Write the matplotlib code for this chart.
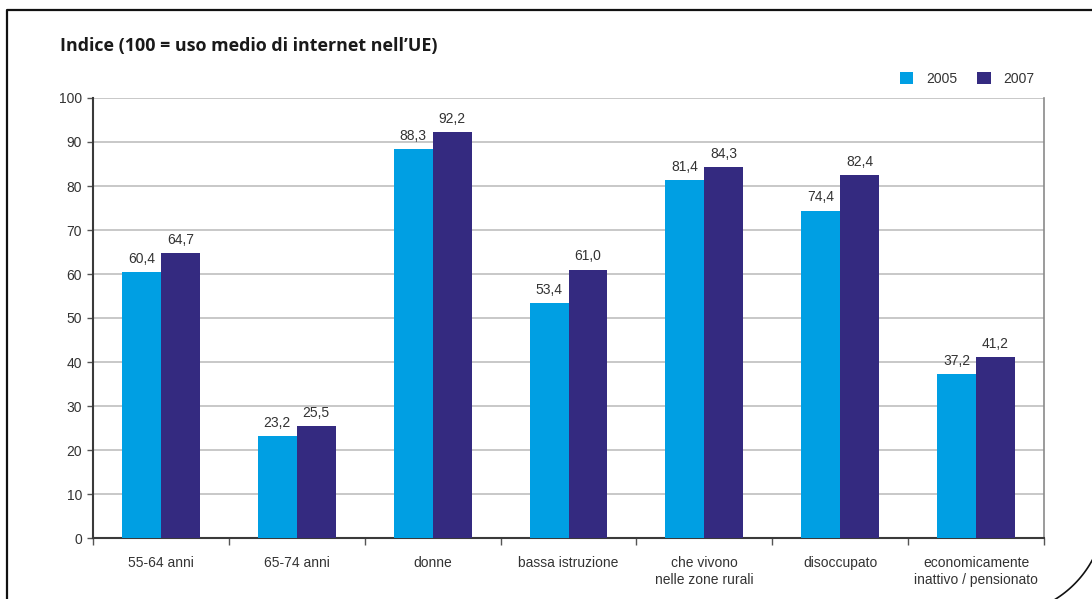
import numpy as np
import matplotlib
matplotlib.use("Agg")
import matplotlib.pyplot as plt
from matplotlib.lines import Line2D

# Data
categories = ["55-64 anni", "65-74 anni", "donne", "bassa istruzione",
              "che vivono\nnelle zone rurali", "disoccupato",
              "economicamente\ninattivo / pensionato"]
vals_2005 = [60.4, 23.2, 88.3, 53.4, 81.4, 74.4, 37.2]
vals_2007 = [64.7, 25.5, 92.2, 61.0, 84.3, 82.4, 41.2]
years = ["2005", "2007"]
yticks = [0, 10, 20, 30, 40, 50, 60, 70, 80, 90, 100]

C05 = "#009fe3"
C07 = "#342a80"
TXT = "#333333"
FONT = "Liberation Sans"
FS = 10

W, H = 1092, 599
fig = plt.figure(figsize=(W / 100, H / 100), dpi=100)
ax = fig.add_axes([93 / W, 1 - 538 / H, (1044 - 93) / W, (538 - 98) / H])

x = np.arange(len(categories))
bw = 0.287
ax.bar(x - bw / 2, vals_2005, bw, color=C05, zorder=3, label=years[0])
ax.bar(x + bw / 2, vals_2007, bw, color=C07, zorder=3, label=years[1])

def fmt(v):
    return f"{v:.1f}".replace(".", ",")

for xi, v in zip(x, vals_2005):
    ax.text(xi - bw / 2, v + 1.4, fmt(v), ha="center", va="bottom",
            fontsize=FS, color=TXT, family=FONT)
for xi, v in zip(x, vals_2007):
    ax.text(xi + bw / 2, v + 1.4, fmt(v), ha="center", va="bottom",
            fontsize=FS, color=TXT, family=FONT)

ax.set_xlim(-0.5, len(categories) - 0.5)
ax.set_ylim(0, 100)
ax.set_yticks(yticks)
ax.set_yticklabels([str(t) for t in yticks], fontsize=FS, color=TXT, family=FONT)
ax.yaxis.grid(True, color="#c4c4c4", lw=1.3, zorder=0)
ax.tick_params(axis="y", length=4, width=1, color="#555555", pad=4)

ax.set_xticks(x)
ax.set_xticklabels(categories, fontsize=FS, color=TXT, family=FONT, linespacing=1.25)
ax.tick_params(axis="x", which="major", length=0, pad=13)
ax.set_xticks(np.arange(-0.5, len(categories)), minor=True)
ax.tick_params(axis="x", which="minor", length=5, width=1, color="#555555")

for s in ["left", "bottom"]:
    ax.spines[s].set_color("#3a3a3a")
    ax.spines[s].set_linewidth(1.5)
ax.spines["right"].set_color("#8a8a8a")
ax.spines["right"].set_linewidth(1.2)
ax.spines["top"].set_visible(False)

fig.text(60 / W, 1 - 46 / H, "Indice (100 = uso medio di internet nell\u2019UE)",
         fontsize=12.9, fontweight="bold", family="Open Sans", color="#1a1a1a",
         va="center", ha="left")

leg = ax.legend(loc="center right", bbox_to_anchor=(0.9926, 1.043), ncol=2, frameon=False,
                handlelength=0.95, handleheight=0.95, handletextpad=0.9, columnspacing=1.47,
                borderaxespad=0.0, borderpad=0.2,
                prop={"family": FONT, "size": FS})
for t in leg.get_texts():
    t.set_color(TXT)

# outer frame with rounded bottom-right corner
fx = lambda px: px / W
fy = lambda py: 1 - py / H
fig.add_artist(Line2D([fx(7), fx(7), fx(1100)], [fy(700), fy(10), fy(10)],
                      transform=fig.transFigure, color="#111111", lw=1.6))
th = np.linspace(0, np.pi / 2, 60)
cx, cy, r = 1000, 510, 105
fig.add_artist(Line2D([fx(cx + r * np.cos(t)) for t in th],
                      [fy(cy + r * np.sin(t)) for t in th],
                      transform=fig.transFigure, color="#111111", lw=1.2))

fig.savefig("out.png", dpi=100, facecolor="white")
